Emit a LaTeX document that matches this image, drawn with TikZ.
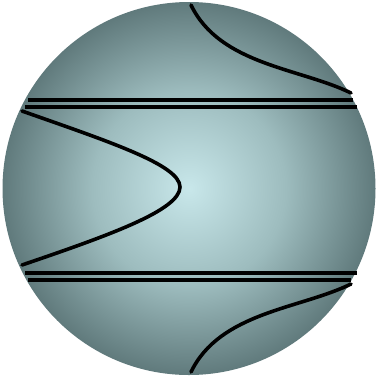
\documentclass[tikz,border=0pt]{standalone}
\definecolor{orbcore}{RGB}{200,231,234}
\definecolor{orbmid}{RGB}{157,188,190}
\definecolor{orbrim}{RGB}{96,122,124}
\pgfdeclareradialshading{orb}{\pgfpoint{0bp}{0bp}}{%
  color(0bp)=(orbcore); color(13bp)=(orbmid); color(25bp)=(orbrim); color(50bp)=(orbrim)}
\begin{document}
\begin{tikzpicture}[x=1pt,y=-1pt,
  curve/.style={line width=3.6pt,line cap=round},
  rail/.style={line width=4pt}]
\useasboundingbox (0,0) rectangle (377,376);
% shaded disc
\shade[shading=orb] (189,188.5) circle[radius=186.5];
% double chords
\draw[rail] (28,100) -- (353,100);
\draw[rail] (25,107) -- (357,107);
\draw[rail] (25,273) -- (357,273);
\draw[rail] (28,280) -- (351,280);
% arcs
\draw[curve] (191,5) .. controls (220,65) and (300,68) .. (351,93);
\draw[curve] (191,372) .. controls (220,312) and (300,309) .. (351,284);
\draw[curve] (22,111) .. controls (110,142) and (180,165) .. (180,187)
  .. controls (180,210) and (110,235) .. (22,265);
\end{tikzpicture}
\end{document}
